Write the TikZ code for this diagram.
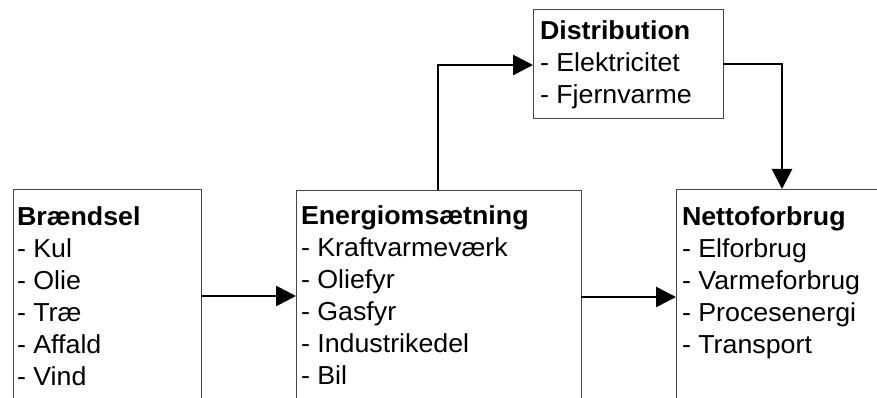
\documentclass[tikz,border=0pt]{standalone}
\usepackage{fontspec}
\setmainfont{Liberation Sans}[FakeStretch=1.03]
\usetikzlibrary{arrows.meta}
\definecolor{boxline}{RGB}{70,70,70}
\tikzset{
  box/.style={draw=boxline, line width=1pt, rectangle, inner sep=0pt, outer sep=0pt, anchor=north west},
  txt/.style={anchor=base west, inner sep=0pt, outer sep=0pt},
  arr/.style={line width=2.8pt, -{Triangle[length=20pt,width=20pt]}},
}
\newcommand{\boxtext}[2]{{\fontsize{26}{32}\selectfont\begin{tabular}[t]{@{}l@{}}\textbf{#1}\\#2\end{tabular}}}
\begin{document}
\begin{tikzpicture}[x=1pt,y=-1pt]
\clip (0,0) rectangle (877,398);
% boxes
\node[box, minimum width=188pt, minimum height=260pt] (b1) at (13,189) {};
\node[box, minimum width=285pt, minimum height=260pt] (b2) at (296,190) {};
\node[box, minimum width=190pt, minimum height=109pt] (b3) at (533,10) {};
\node[box, minimum width=260pt, minimum height=260pt] (b4) at (676,189) {};
% texts
\node[txt] (t1) at (17,225) {\boxtext{Brændsel}{- Kul\\- Olie\\- Træ\\- Affald\\- Vind}};
\node[txt] (t2) at (301,224) {\boxtext{Energiomsætning}{- Kraftvarmeværk\\- Oliefyr\\- Gasfyr\\- Industrikedel\\- Bil}};
\node[txt] (t3) at (540,40) {\boxtext{Distribution}{- Elektricitet\\- Fjernvarme}};
\node[txt] (t4) at (682,225) {\boxtext{Nettoforbrug}{- Elforbrug\\- Varmeforbrug\\- Procesenergi\\- Transport}};
% connectors
\draw[arr] (b1.east |- 0,296) -- (b2.west |- 0,296);
\draw[arr] (b2.east |- 0,297) -- (b4.west |- 0,297);
\draw[arr] (b2.north -| 438,0) -- (438,65) -- (b3.west |- 0,65);
\draw[arr] (b3.east |- 0,64) -- (782,64) -- (b4.north -| 782,0);
\end{tikzpicture}
\end{document}
